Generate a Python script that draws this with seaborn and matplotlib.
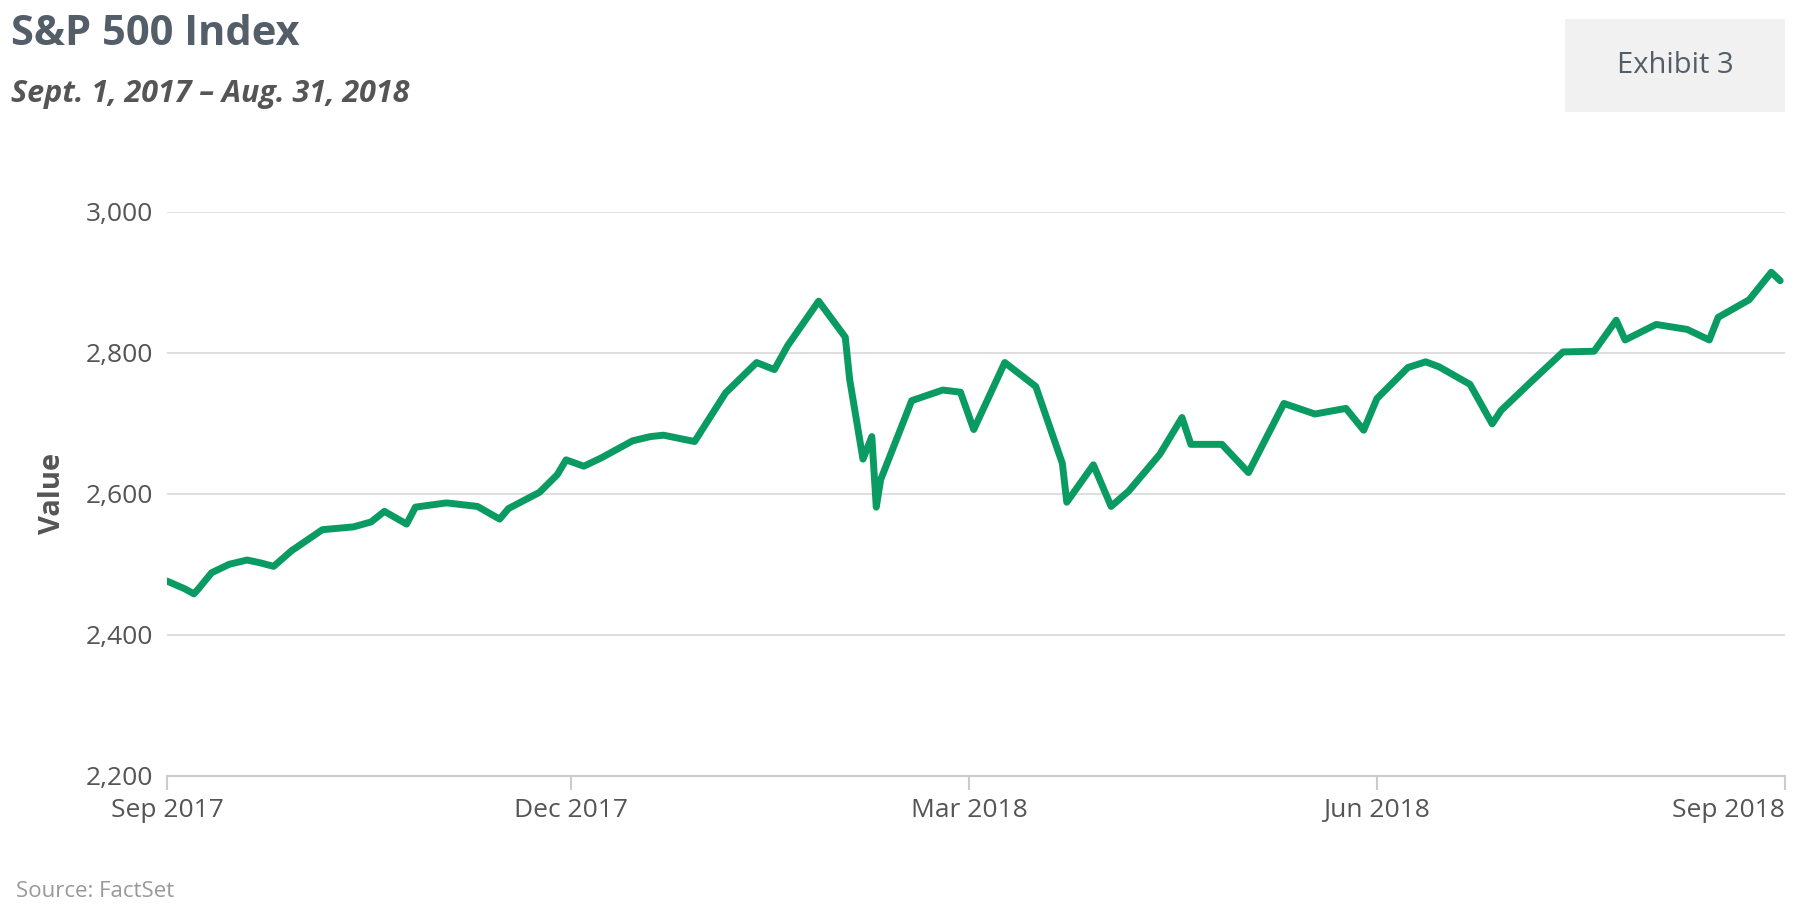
import matplotlib
matplotlib.use("Agg")
import matplotlib.pyplot as plt
import matplotlib.dates as mdates
import matplotlib.ticker as mticker
import pandas as pd
import seaborn as sns

# Approximate S&P 500 closes
dates = ["2017-09-01", "2017-09-05", "2017-09-07", "2017-09-08", "2017-09-11", "2017-09-15",
         "2017-09-19", "2017-09-22", "2017-09-25", "2017-09-29", "2017-10-06", "2017-10-13",
         "2017-10-17", "2017-10-20", "2017-10-25", "2017-10-27", "2017-11-03", "2017-11-10",
         "2017-11-15", "2017-11-17", "2017-11-24", "2017-11-28", "2017-11-30", "2017-12-04",
         "2017-12-08", "2017-12-15", "2017-12-19", "2017-12-22", "2017-12-29", "2018-01-05",
         "2018-01-12", "2018-01-16", "2018-01-19", "2018-01-26", "2018-02-01", "2018-02-02",
         "2018-02-05", "2018-02-07", "2018-02-08", "2018-02-09", "2018-02-16", "2018-02-23",
         "2018-02-27", "2018-03-02", "2018-03-09", "2018-03-16", "2018-03-22", "2018-03-23",
         "2018-03-29", "2018-04-02", "2018-04-06", "2018-04-13", "2018-04-18", "2018-04-20",
         "2018-04-27", "2018-05-03", "2018-05-11", "2018-05-18", "2018-05-25", "2018-05-29",
         "2018-06-01", "2018-06-08", "2018-06-12", "2018-06-15", "2018-06-22", "2018-06-27",
         "2018-06-29", "2018-07-06", "2018-07-13", "2018-07-20", "2018-07-25", "2018-07-27",
         "2018-08-03", "2018-08-10", "2018-08-15", "2018-08-17", "2018-08-24", "2018-08-29",
         "2018-08-31"]
values = [2476, 2465, 2458, 2465, 2488, 2500, 2506, 2502, 2497, 2519, 2549, 2553,
          2560, 2575, 2557, 2581, 2587, 2582, 2564, 2579, 2602, 2627, 2648, 2639,
          2651, 2675, 2681, 2683, 2674, 2743, 2786, 2776, 2810, 2873, 2822, 2762,
          2649, 2681, 2581, 2620, 2732, 2747, 2744, 2691, 2786, 2752, 2643, 2588,
          2641, 2582, 2604, 2656, 2708, 2670, 2670, 2630, 2728, 2713, 2721, 2690,
          2735, 2779, 2787, 2780, 2755, 2699, 2718, 2760, 2801, 2802, 2846, 2818,
          2840, 2833, 2818, 2850, 2875, 2914, 2902]

df = pd.DataFrame({"date": pd.to_datetime(dates), "value": values})

sns.set_theme(style="white")
plt.rcParams["font.family"] = ["Open Sans", "DejaVu Sans"]

fig = plt.figure(figsize=(17.99, 9.16), dpi=100)
ax = fig.add_axes([0.093, 0.153, 0.899, 0.616])

sns.lineplot(data=df, x="date", y="value", ax=ax, color="#0a9b62", linewidth=5)

ax.set_ylim(2200, 3000)
ax.set_xlim(pd.Timestamp("2017-09-01"), pd.Timestamp("2018-09-01"))
ax.yaxis.set_major_locator(mticker.MultipleLocator(200))
ax.yaxis.set_major_formatter(mticker.FuncFormatter(lambda v, p: f"{int(v):,}"))
ax.xaxis.set_major_locator(mdates.MonthLocator(bymonth=[3, 6, 9, 12]))
ax.xaxis.set_major_formatter(mdates.DateFormatter("%b %Y"))
ax.grid(axis="y", color="#dcdcdc", linewidth=1.3)
for s in ["top", "right", "left"]:
    ax.spines[s].set_visible(False)
ax.spines["bottom"].set_color("#cccccc")
ax.spines["bottom"].set_linewidth(1.5)
ax.tick_params(axis="x", colors="#cccccc", length=10, width=1.5, labelcolor="#555555",
               labelsize=19, pad=6, bottom=True)
ax.tick_params(axis="y", length=0, labelcolor="#555555", labelsize=19, pad=10)
fig.canvas.draw()
xlabels = ax.get_xticklabels()
xlabels[-1].set_horizontalalignment("right")
ax.set_xlabel("")
ax.set_ylabel("Value", fontsize=21, fontweight="bold", color="#555555", labelpad=14)

fig.text(0.006, 0.962, "S&P 500 Index", fontsize=30, fontweight="bold", color="#545e68",
         va="center")
fig.text(0.006, 0.897, "Sept. 1, 2017 – Aug. 31, 2018", fontsize=22, fontweight="bold",
         style="italic", color="#555555", va="center")
fig.patches.append(plt.Rectangle((0.870, 0.878), 0.122, 0.101, transform=fig.transFigure,
                                 facecolor="#f1f1f1", edgecolor="none"))
fig.text(0.931, 0.928, "Exhibit 3", fontsize=21, color="#545e68", ha="center", va="center")
fig.text(0.009, 0.027, "Source: FactSet", fontsize=16, color="#999999", va="center")

fig.savefig("out.png", dpi=100)
